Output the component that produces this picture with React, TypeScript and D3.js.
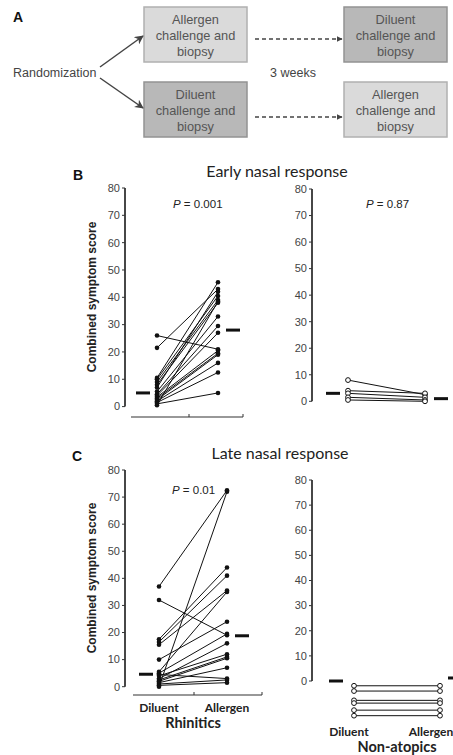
import React from 'react';
import * as d3 from 'd3';

const W = 453;
const H = 755;

const groups = ['Diluent', 'Allergen'];
const yTicks = [0, 10, 20, 30, 40, 50, 60, 70, 80];

// early nasal response, rhinitics (paired)
const earlyRhinDil = [26, 21.5, 10.5, 10, 9, 8, 7, 5.5, 4.5, 4, 3.5, 3, 2.5, 2, 1.5, 1, 0.5];
const earlyRhinAll = [21, 43, 45.5, 40.5, 39, 38, 42, 33, 29.5, 27, 20.5, 19.5, 19, 16, 12.5, 5, 38.5];
const earlyRhinMedian = [5, 28];
// early nasal response, non-atopics
const earlyNonDil = [8, 4, 3, 1.5, 0.5];
const earlyNonAll = [2.5, 3, 1.5, 0.5, 0];
const earlyNonMedian = [3, 1];
// late nasal response, rhinitics
const lateRhinDil = [37, 32, 17.5, 16.5, 15.5, 10, 5.5, 5, 4.5, 4, 3, 2.5, 2, 1.5, 1, 0.5, 0];
const lateRhinAll = [72.5, 19, 44, 41, 35.5, 24, 35, 19.5, 3, 12, 16, 11, 10.5, 7, 2.5, 1.5, 72];
const lateRhinMedian = [4.6, 18.8];
// late nasal response, non-atopics (all zero, drawn stacked below the axis)
const lateNonDil = [-1.9, -4, -7.7, -8.8, -11.6, -13.8];
const lateNonAll = [-1.9, -4, -7.7, -8.8, -11.6, -13.8];
const lateNonMedian = [0, 1.2];

const pLabels = ['0.001', '0.87', '0.01'];

const AX = '#333';
const SANS = 'Liberation Sans, Arial, sans-serif';
const CAL = 'Lato, Open Sans, sans-serif';

function Panel(props: any) {
  const { axisX, top, zero, xs, dil, all, med, open, p, pPos, xAxis, labels, gaps } = props;
  const y = d3.scaleLinear().domain([0, 80]).range([zero, top]);
  const x = d3.scalePoint<string>().domain(groups).range(xs);
  const line = d3.line<[string, number]>().x(d => x(d[0]) as number).y(d => y(d[1]));
  const pairs = d3.zip(dil, all) as [number, number][];
  const xd = x('Diluent') as number;
  const xa = x('Allergen') as number;
  const shift = labels && labels.shift ? labels.shift : [0, 0];
  return (
    <g>
      <line x1={axisX} x2={axisX} y1={y(80)} y2={y(0)} stroke={AX} strokeWidth={1.8} />
      {yTicks.map(t => (
        <g key={t}>
          <line x1={axisX - 3} x2={axisX} y1={y(t)} y2={y(t)} stroke={AX} strokeWidth={1} />
          <text x={axisX - 5} y={y(t)} dy="0.35em" textAnchor="end" fontSize={11} fill="#444" fontFamily={SANS}>{t}</text>
        </g>
      ))}
      {xAxis && (
        <g>
          <line x1={xAxis.x1} x2={xAxis.x2} y1={xAxis.y} y2={xAxis.y} stroke={AX} strokeWidth={1.2} />
          {xAxis.ticks.map((t: number, i: number) => (
            <line key={i} x1={t} x2={t} y1={xAxis.y} y2={xAxis.y - 3} stroke={AX} strokeWidth={1} />
          ))}
        </g>
      )}
      {pairs.map((d, i) => (
        <path key={i} d={line([['Diluent', d[0]], ['Allergen', d[1]]]) as string} stroke="#111" strokeWidth={1} fill="none" />
      ))}
      {pairs.map((d, i) => (
        <g key={'c' + i}>
          <circle cx={xd} cy={y(d[0])} r={open ? 2.4 : 2.3} fill={open ? '#fff' : '#111'} stroke="#111" strokeWidth={open ? 1 : 0} />
          <circle cx={xa} cy={y(d[1])} r={open ? 2.4 : 2.3} fill={open ? '#fff' : '#111'} stroke="#111" strokeWidth={open ? 1 : 0} />
        </g>
      ))}
      <line x1={xd - gaps[0] - 14} x2={xd - gaps[0]} y1={y(med[0])} y2={y(med[0])} stroke="#111" strokeWidth={3} />
      <line x1={xa + gaps[1]} x2={xa + gaps[1] + 14} y1={y(med[1])} y2={y(med[1])} stroke="#111" strokeWidth={3} />
      {p && (
        <text x={pPos[0]} y={pPos[1]} dy="0.35em" fontSize={11.5} fill="#222" fontFamily={SANS}>
          <tspan fontStyle="italic">P</tspan> = {p}
        </text>
      )}
      {labels && (
        <g fontFamily={CAL} fontWeight="bold" fill="#222" textAnchor="middle">
          <text x={xd + shift[0]} y={labels.y} fontSize={12}>Diluent</text>
          <text x={xa + shift[1]} y={labels.y} fontSize={12}>Allergen</text>
          <text x={(xd + xa) / 2} y={labels.y + 16} fontSize={14.5}>{labels.title}</text>
        </g>
      )}
    </g>
  );
}

function Box({ x, y, lines, dark }: any) {
  return (
    <g>
      <rect x={x} y={y} width={103} height={55} fill={dark ? '#b8b8b8' : '#dadada'} stroke={dark ? '#939393' : '#b0b0b0'} strokeWidth={1.5} />
      {lines.map((l: string, i: number) => (
        <text key={i} x={x + 51.5} y={y + 13 + i * 16} dy="0.35em" textAnchor="middle" fontSize={12.8} fill="#555" fontFamily={SANS}>{l}</text>
      ))}
    </g>
  );
}

export default function App() {
  const allergenLines = ['Allergen', 'challenge and', 'biopsy'];
  const diluentLines = ['Diluent', 'challenge and', 'biopsy'];
  return (
    <svg width={W} height={H} style={{ position: 'absolute', left: 0, top: 0, background: '#fff' }} fontFamily={SANS}>
      <defs>
        <marker id="solidHead" viewBox="0 0 10 10" refX="9" refY="5" markerWidth="9" markerHeight="9" orient="auto" markerUnits="userSpaceOnUse">
          <path d="M0,0 L10,5 L0,10 L3,5 z" fill="#444" />
        </marker>
        <marker id="dashHead" viewBox="0 0 10 10" refX="9" refY="5" markerWidth="6" markerHeight="6" orient="auto" markerUnits="userSpaceOnUse">
          <path d="M0,0 L10,5 L0,10 z" fill="#444" />
        </marker>
      </defs>

      {/* panel A */}
      <text x={13} y={22} fontSize={14} fontWeight="bold" fill="#111">A</text>
      <Box x={144} y={7} lines={allergenLines} />
      <Box x={344} y={7} lines={diluentLines} dark />
      <Box x={144} y={82} lines={diluentLines} dark />
      <Box x={344} y={82} lines={allergenLines} />
      <text x={13} y={73} dy="0.35em" fontSize={12.5} fill="#444">Randomization</text>
      <text x={293} y={73} dy="0.35em" fontSize={12.5} fill="#444" textAnchor="middle">3 weeks</text>
      <line x1={100} y1={67} x2={143} y2={36} stroke="#444" strokeWidth={1.5} markerEnd="url(#solidHead)" />
      <line x1={100} y1={78} x2={143} y2={108} stroke="#444" strokeWidth={1.5} markerEnd="url(#solidHead)" />
      <line x1={255} y1={39} x2={342} y2={39} stroke="#444" strokeWidth={1.4} strokeDasharray="4,3" markerEnd="url(#dashHead)" />
      <line x1={255} y1={117} x2={342} y2={117} stroke="#444" strokeWidth={1.4} strokeDasharray="4,3" markerEnd="url(#dashHead)" />

      {/* panel B */}
      <text x={73} y={180} fontSize={14} fontWeight="bold" fill="#111">B</text>
      <text x={277} y={171} dy="0.35em" textAnchor="middle" fontSize={16} fontFamily={CAL} fill="#222">Early nasal response</text>
      <text transform="translate(96,297) rotate(-90)" textAnchor="middle" fontSize={12} fontWeight="bold" fill="#222">Combined symptom score</text>
      <Panel axisX={125} top={188} zero={406.6} xs={[157, 218]} dil={earlyRhinDil} all={earlyRhinAll}
        med={earlyRhinMedian} gaps={[7, 8]} p={pLabels[0]} pPos={[173, 204]}
        xAxis={{ y: 417, x1: 131, x2: 243, ticks: [189, 243] }} />
      <Panel axisX={312} top={189} zero={401.3} xs={[348, 425]} dil={earlyNonDil} all={earlyNonAll}
        med={earlyNonMedian} gaps={[8, 9]} open p={pLabels[1]} pPos={[366, 204]} />

      {/* panel C */}
      <text x={72} y={461} fontSize={14} fontWeight="bold" fill="#111">C</text>
      <text x={280} y={453} dy="0.35em" textAnchor="middle" fontSize={16} fontFamily={CAL} fill="#222">Late nasal response</text>
      <text transform="translate(96,578) rotate(-90)" textAnchor="middle" fontSize={12} fontWeight="bold" fill="#222">Combined symptom score</text>
      <Panel axisX={125} top={470} zero={686.7} xs={[159, 227]} dil={lateRhinDil} all={lateRhinAll}
        med={lateRhinMedian} gaps={[6, 8]} p={pLabels[2]} pPos={[172, 490]}
        xAxis={{ y: 695, x1: 133, x2: 262, ticks: [194, 262] }}
        labels={{ y: 712, title: 'Rhinitics' }} />
      <Panel axisX={312} top={480} zero={681} xs={[354, 440]} dil={lateNonDil} all={lateNonAll}
        med={lateNonMedian} gaps={[11, 8]} open
        labels={{ y: 736, title: 'Non-atopics', shift: [-5, -9] }} />
    </svg>
  );
}
